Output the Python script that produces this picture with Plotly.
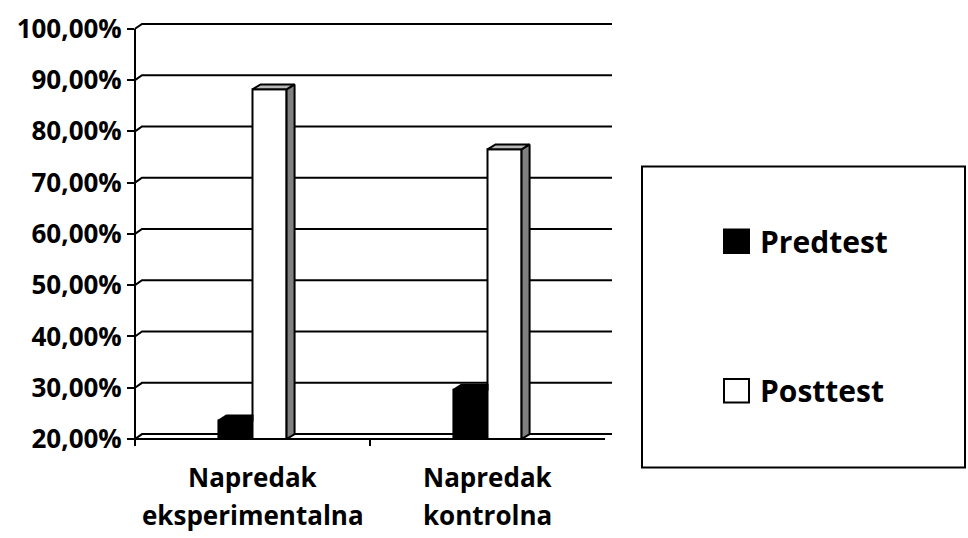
import plotly.graph_objects as go

# ---------------- data ----------------
categories = ["Napredak<br>eksperimentalna", "Napredak<br>kontrolna"]
series_names = ["Predtest", "Posttest"]
predtest = [23.6, 29.6]
posttest = [88.2, 76.5]
y_ticks = [20, 30, 40, 50, 60, 70, 80, 90, 100]
y_tick_labels = ["20,00%", "30,00%", "40,00%", "50,00%", "60,00%",
                 "70,00%", "80,00%", "90,00%", "100,00%"]

# ---------------- styles / layout constants ----------------
FILL = {"Predtest": "#000000", "Posttest": "#ffffff"}
TOP_FILL = {"Predtest": "#000000", "Posttest": "#b8b8b8"}
SIDE_FILL = "#808080"
FONT = "Open Sans"

W, H = 968, 538
L, R, T, B = 135, 356, 10, 99
PW = W - L - R
PH = H - T - B
X_PX_PER_UNIT = 235.0
Y_PX_PER_PCT = 5.2125
x_range = [-0.5, -0.5 + PW / X_PX_PER_UNIT]
y_range = [y_ticks[0], y_ticks[0] + PH / Y_PX_PER_PCT]

BAR_W = 0.145
BDX, BDY = 8 / X_PX_PER_UNIT, 5 / Y_PX_PER_PCT   # bar depth
WDX, WDY = 7 / X_PX_PER_UNIT, 5 / Y_PX_PER_PCT   # wall depth
CAT_LO, CAT_HI = -0.5, 1.5


def xp(u):
    return (u - x_range[0]) / (x_range[1] - x_range[0])


def yp(v):
    return (v - y_range[0]) / (y_range[1] - y_range[0])


def pxp(px):
    return (px - L) / PW


def pyp(py):
    return (H - B - py) / PH


xs = list(range(len(categories)))
base = y_ticks[0]

fig = go.Figure()

series = [("Predtest", predtest, -BAR_W), ("Posttest", posttest, 0.0)]
for name, vals, off in series:
    fig.add_trace(go.Bar(
        x=xs, y=vals, width=BAR_W, offset=off, name=name,
        marker=dict(color=FILL[name], line=dict(color="black", width=2)),
        showlegend=False, hoverinfo="y+name",
    ))

# 3D faces derived from the values
for name, vals, off in series:
    for i, v in enumerate(vals):
        xl = xs[i] + off
        xr = xl + BAR_W
        if name == "Posttest":
            fig.add_trace(go.Scatter(
                x=[xr, xr + BDX, xr + BDX, xr, xr],
                y=[base, base + BDY, v + BDY, v, base],
                mode="lines", fill="toself", fillcolor=SIDE_FILL,
                line=dict(color="black", width=2),
                showlegend=False, hoverinfo="skip"))
            tx = [xl, xl + BDX, xr + BDX, xr, xl]
        else:
            tx = [xl, xl + BDX, xr, xr, xl]
        fig.add_trace(go.Scatter(
            x=tx, y=[v, v + BDY, v + BDY, v, v],
            mode="lines", fill="toself", fillcolor=TOP_FILL[name],
            line=dict(color="black", width=2),
            showlegend=False, hoverinfo="skip"))

shapes = []
# back wall gridlines with left-wall diagonals
for v in y_ticks:
    path = (f"M {xp(CAT_LO)},{yp(v)} L {xp(CAT_LO + WDX)},{yp(v + WDY)} "
            f"L {xp(CAT_HI + WDX)},{yp(v + WDY)}")
    shapes.append(dict(type="path", path=path, xref="paper", yref="paper",
                       line=dict(color="black", width=2), layer="below"))
# front axes
shapes.append(dict(type="line", xref="paper", yref="paper",
                   x0=xp(CAT_LO), x1=xp(CAT_LO), y0=yp(base), y1=yp(y_ticks[-1]),
                   line=dict(color="black", width=2)))
shapes.append(dict(type="line", xref="paper", yref="paper",
                   x0=xp(CAT_LO), x1=xp(CAT_HI), y0=yp(base), y1=yp(base),
                   line=dict(color="black", width=2)))
for u in [CAT_LO, CAT_LO + 1]:
    shapes.append(dict(type="line", xref="paper", yref="paper",
                       x0=xp(u), x1=xp(u), y0=yp(base), y1=yp(base) - 7 / PH,
                       line=dict(color="black", width=2)))

# legend box
shapes.append(dict(type="rect", xref="paper", yref="paper",
                   x0=pxp(642), x1=pxp(965), y0=pyp(468), y1=pyp(162),
                   line=dict(color="black", width=2), fillcolor="rgba(0,0,0,0)"))
legend_rows = [238, 390]
annotations = []
for name, row in zip(series_names, legend_rows):
    shapes.append(dict(type="rect", xref="paper", yref="paper",
                       x0=pxp(724), x1=pxp(749), y0=pyp(row + 12), y1=pyp(row - 12),
                       line=dict(color="black", width=2), fillcolor=FILL[name]))
    annotations.append(dict(x=pxp(758), y=pyp(row), xref="paper", yref="paper",
                            text=name, showarrow=False, xanchor="left", yanchor="middle",
                            font=dict(family=FONT, size=30, color="black", weight="bold")))

# category labels
for i, cat in enumerate(categories):
    for j, line in enumerate(cat.split("<br>")):
        annotations.append(dict(x=xs[i], y=pyp(478 + 38 * j), xref="x", yref="paper",
                                text=line, showarrow=False, xanchor="center",
                                yanchor="middle",
                                font=dict(family=FONT, size=26, color="black",
                                          weight="bold")))

fig.update_layout(
    width=W, height=H,
    margin=dict(l=L, r=R, t=T, b=B, pad=0),
    paper_bgcolor="white", plot_bgcolor="white",
    barmode="overlay",
    shapes=shapes, annotations=annotations,
    showlegend=False,
    font=dict(family=FONT, color="black"),
)
fig.update_xaxes(range=x_range, showgrid=False, zeroline=False, showline=False,
                 showticklabels=False, ticks="")
fig.update_yaxes(range=y_range, showgrid=False, zeroline=False, showline=False,
                 tickmode="array", tickvals=y_ticks, ticktext=y_tick_labels,
                 ticks="outside", ticklen=7, tickwidth=2, tickcolor="black",
                 tickfont=dict(family=FONT, size=26, color="black", weight="bold"))

fig.write_html("out.html",
               config={"displayModeBar": False},
               post_script="document.body.style.margin='0px';"
                           "document.body.style.overflow='hidden';")
